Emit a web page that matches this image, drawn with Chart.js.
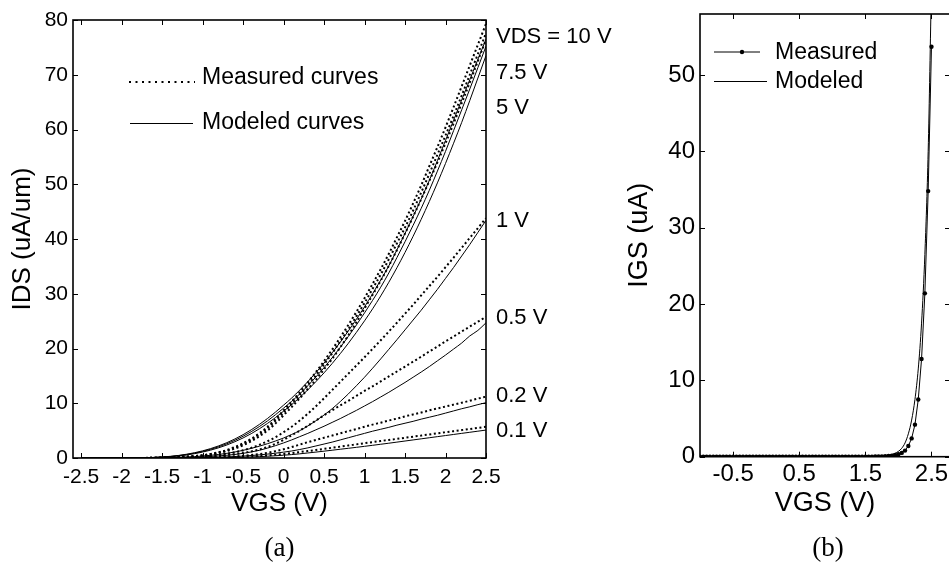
<!DOCTYPE html>
<html>
<head>
<meta charset="utf-8">
<script src="https://cdn.jsdelivr.net/npm/chart.js@4.4.1/dist/chart.umd.min.js"></script>
<style>
  html, body { margin: 0; padding: 0; background: #fff; overflow: hidden; width: 949px; height: 564px; }
  canvas { position: absolute; top: 0; }
</style>
</head>
<body>
<canvas id="chartA" width="640" height="564" style="left:0"></canvas>
<canvas id="chartB" width="390" height="564" style="left:592px"></canvas>
<script>
// ---- panel (a): IDS vs VGS ----
const vgsA = [-2.5,-2.4,-2.3,-2.2,-2.1,-2,-1.9,-1.8,-1.7,-1.6,-1.5,-1.4,-1.3,-1.2,-1.1,-1,-0.9,-0.8,-0.7,-0.6,-0.5,-0.4,-0.3,-0.2,-0.1,
  0,0.1,0.2,0.3,0.4,0.5,0.6,0.7,0.8,0.9,1,1.1,1.2,1.3,1.4,1.5,1.6,1.7,1.8,1.9,2,2.1,2.2,2.3,2.4,2.5];

const vdsLabels = ['VDS = 10 V', '7.5 V', '5 V', '1 V', '0.5 V', '0.2 V', '0.1 V'];

const measVds10 = [0,0,0,0,0,0,0,0.01,0.02,0.04,0.07,0.11,0.17,0.25,0.36,0.5,0.75,1.05,1.45,2.0,2.7,3.5,4.5,5.7,7.1,
  8.7,10.3,12.0,13.8,15.7,17.7,19.8,22.0,24.3,26.7,29.2,31.8,34.5,37.3,40.3,43.3,46.5,49.8,53.3,56.8,60.4,64.1,67.9,71.7,75.5,79.3];
const measVds75 = [0,0,0,0,0,0,0,0.01,0.02,0.04,0.06,0.1,0.16,0.24,0.34,0.48,0.7,1.0,1.38,1.9,2.55,3.35,4.3,5.45,6.8,
  8.3,9.9,11.5,13.3,15.1,17.1,19.1,21.3,23.5,25.9,28.3,30.9,33.5,36.3,39.2,42.1,45.2,48.5,51.9,55.4,58.9,62.5,66.2,70.0,73.8,77.6];
const measVds5 = [0,0,0,0,0,0,0,0.01,0.02,0.03,0.05,0.09,0.14,0.21,0.3,0.43,0.62,0.9,1.25,1.72,2.32,3.05,3.95,5.0,6.3,
  7.8,9.3,10.9,12.6,14.3,16.2,18.1,20.2,22.4,24.8,27.3,29.8,32.4,35.1,38.0,41.0,44.1,47.3,50.6,54.0,57.5,61.1,64.8,68.6,72.5,76.4];
const measVds1 = [0,0,0,0,0,0,0,0,0.01,0.02,0.04,0.06,0.09,0.14,0.2,0.29,0.41,0.57,0.78,1.05,1.4,1.85,2.4,3.05,3.8,
  4.7,5.7,6.85,8.1,9.45,10.9,12.4,13.9,15.4,16.9,18.4,19.95,21.5,23.1,24.7,26.35,28.0,29.7,31.4,33.1,34.85,36.6,38.4,40.2,42.0,43.8];
const measVds05 = [0,0,0,0,0,0,0,0,0.01,0.01,0.02,0.04,0.06,0.09,0.14,0.2,0.28,0.38,0.52,0.7,0.92,1.2,1.55,2.0,2.6,
  3.3,4.15,5.0,5.9,6.85,7.8,8.7,9.6,10.45,11.35,12.25,13.1,14.0,14.9,15.8,16.7,17.6,18.5,19.45,20.35,21.3,22.2,23.1,24.0,24.9,25.8];
const measVds02 = [0,0,0,0,0,0,0,0,0,0.01,0.01,0.02,0.03,0.04,0.06,0.08,0.11,0.15,0.21,0.29,0.4,0.54,0.72,0.95,1.25,
  1.6,2.0,2.45,2.9,3.3,3.7,4.1,4.5,4.9,5.3,5.7,6.1,6.45,6.85,7.2,7.6,7.95,8.3,8.7,9.05,9.4,9.75,10.1,10.45,10.85,11.2];
const measVds01 = [0,0,0,0,0,0,0,0,0,0,0,0.01,0.01,0.02,0.03,0.04,0.06,0.08,0.11,0.15,0.2,0.27,0.36,0.47,0.6,
  0.75,0.9,1.08,1.27,1.47,1.67,1.88,2.08,2.29,2.49,2.7,2.9,3.1,3.3,3.5,3.7,3.9,4.1,4.3,4.5,4.7,4.9,5.1,5.3,5.5,5.7];

const modVds10 = [0,0,0,0,0,0,0,0.03,0.06,0.11,0.19,0.3,0.46,0.68,0.96,1.3,1.72,2.22,2.8,3.48,4.26,5.14,6.12,7.2,8.38,
  9.65,10.95,12.4,13.95,15.6,17.35,19.2,21.15,23.2,25.35,27.6,30.0,32.5,35.1,38.0,41.0,44.1,47.3,50.7,54.3,58.0,61.7,65.4,69.1,72.8,76.5];
const modVds75 = [0,0,0,0,0,0,0,0.03,0.05,0.1,0.17,0.27,0.42,0.62,0.88,1.2,1.59,2.06,2.6,3.24,3.97,4.8,5.73,6.76,7.9,
  9.1,10.35,11.7,13.2,14.8,16.5,18.3,20.2,22.2,24.3,26.5,28.8,31.2,33.8,36.6,39.5,42.5,45.6,48.9,52.4,56.0,59.8,63.6,67.4,71.3,75.2];
const modVds5 = [0,0,0,0,0,0,0,0.02,0.05,0.09,0.15,0.24,0.37,0.55,0.79,1.08,1.44,1.87,2.38,2.98,3.66,4.44,5.32,6.3,7.38,
  8.55,9.75,11.05,12.45,13.95,15.55,17.25,19.05,20.95,22.95,25.05,27.25,29.6,32.1,34.75,37.55,40.5,43.6,46.85,50.25,53.8,57.5,61.3,65.3,69.4,73.5];
const modVds1 = [0,0,0,0,0,0,0,0,0.02,0.03,0.05,0.08,0.12,0.18,0.26,0.36,0.49,0.65,0.85,1.1,1.4,1.75,2.15,2.6,3.1,
  3.65,4.3,5.0,5.85,6.8,7.85,9.0,10.3,11.7,13.2,14.75,16.4,18.1,19.85,21.6,23.4,25.2,27.0,28.9,30.8,32.8,34.8,36.9,39.0,41.2,43.4];
const modVds05 = [0,0,0,0,0,0,0,0,0.01,0.02,0.03,0.04,0.06,0.09,0.14,0.2,0.28,0.38,0.5,0.65,0.85,1.1,1.4,1.8,2.25,
  2.75,3.3,3.9,4.5,5.15,5.8,6.5,7.2,7.95,8.7,9.5,10.3,11.15,12.0,12.9,13.8,14.75,15.7,16.7,17.75,18.8,19.9,21.0,22.3,23.3,24.7];
const modVds02 = [0,0,0,0,0,0,0,0,0,0.01,0.01,0.02,0.03,0.04,0.06,0.08,0.11,0.15,0.2,0.27,0.35,0.45,0.57,0.71,0.88,
  1.07,1.28,1.55,1.85,2.2,2.55,2.9,3.3,3.7,4.1,4.5,4.9,5.25,5.6,6.0,6.35,6.7,7.1,7.45,7.8,8.2,8.6,9.0,9.35,9.75,10.1];
const modVds01 = [0,0,0,0,0,0,0,0,0,0,0,0.01,0.01,0.02,0.02,0.03,0.04,0.06,0.08,0.11,0.14,0.19,0.25,0.32,0.41,
  0.51,0.62,0.76,0.92,1.08,1.25,1.42,1.6,1.77,1.95,2.13,2.32,2.51,2.7,2.9,3.1,3.3,3.5,3.7,3.9,4.1,4.3,4.5,4.7,4.9,5.1];

const xTicksA = [-2.5,-2,-1.5,-1,-0.5,0,0.5,1,1.5,2,2.5];
const yTicksA = [0,10,20,30,40,50,60,70,80];

// ---- panel (b): IGS vs VGS ----
const vgsB = [-1,-0.95,-0.9,-0.85,-0.8,-0.75,-0.7,-0.65,-0.6,-0.55,-0.5,-0.45,-0.4,-0.35,-0.3,-0.25,-0.2,-0.15,-0.1,-0.05,
  0,0.05,0.1,0.15,0.2,0.25,0.3,0.35,0.4,0.45,0.5,0.55,0.6,0.65,0.7,0.75,0.8,0.85,0.9,0.95,
  1,1.05,1.1,1.15,1.2,1.25,1.3,1.35,1.4,1.45,1.5,1.55,1.6,1.65,1.7,1.75,1.8,1.85,1.9,1.95,
  2,2.05,2.1,2.15,2.2,2.25,2.3,2.35,2.4,2.45,2.5];
const igsMeas = [0,0,0,0,0,0,0,0,0,0,0,0,0,0,0,0,0,0,0,0,0,0,0,0,0,0,0,0,0,0,0,0,0,0,0,0,0,0,0,0,0,0,0,0,0,0,0,0,0,0,0,
  0.01,0.01,0.02,0.03,0.04,0.06,0.09,0.14,0.22,0.33,0.5,0.8,1.4,2.4,4.2,7.5,12.8,21.4,34.8,53.7];
const igsMod = [0,0,0,0,0,0,0,0,0,0,0,0,0,0,0,0,0,0,0,0,0,0,0,0,0,0,0,0,0,0,0,0,0,0,0,0,0,0,0,0,0,0,0,0,0,0,0,0,0,0,0,
  0.01,0.02,0.03,0.05,0.08,0.13,0.2,0.3,0.45,0.7,1.1,1.8,3.0,4.8,7.5,11.5,17.5,26.5,40,62];
const xTicksB = [-0.5,0.5,1.5,2.5];
const yTicksB = [0,10,20,30,40,50];

// label anchors (IDS values where the right-hand VDS labels sit)
const labelAnchorA = [76.9, 70.3, 64.0, 43.3, 25.6, 11.4, 4.9];

const FONT = '"Liberation Sans", Arial, Helvetica, sans-serif';
Chart.defaults.font.family = FONT;
Chart.defaults.color = '#000';

const pts = (xs, ys) => ys.map((v, i) => ({x: xs[i], y: v}));

// MATLAB-like box with inward ticks on all four sides
const boxPlugin = {
  id: 'box',
  afterDraw(chart) {
    const {ctx, chartArea: a, scales: {x, y}} = chart;
    const len = 5;
    ctx.save();
    ctx.strokeStyle = '#000';
    ctx.lineWidth = 1;
    ctx.beginPath();
    x.ticks.forEach(t => {
      const px = Math.round(x.getPixelForValue(t.value)) + 0.5;
      ctx.moveTo(px, a.bottom); ctx.lineTo(px, a.bottom - len);
      ctx.moveTo(px, a.top); ctx.lineTo(px, a.top + len);
    });
    y.ticks.forEach(t => {
      const py = Math.round(y.getPixelForValue(t.value)) + 0.5;
      ctx.moveTo(a.left, py); ctx.lineTo(a.left + len, py);
      ctx.moveTo(a.right, py); ctx.lineTo(a.right - len, py);
    });
    ctx.stroke();
    ctx.lineWidth = 1.6;
    ctx.strokeRect(a.left, a.top, a.right - a.left, a.bottom - a.top);
    ctx.restore();
  }
};

const annotA = {
  id: 'annotA',
  afterDraw(chart) {
    const {ctx, chartArea: a, scales: {y}} = chart;
    ctx.save();
    ctx.fillStyle = '#000';
    ctx.strokeStyle = '#000';
    // legend
    ctx.lineWidth = 2;
    ctx.setLineDash([2, 4.5]);
    ctx.beginPath(); ctx.moveTo(a.left + 56, a.top + 62); ctx.lineTo(a.left + 122, a.top + 62); ctx.stroke();
    ctx.setLineDash([]);
    ctx.lineWidth = 1;
    ctx.beginPath(); ctx.moveTo(a.left + 57, a.top + 103.5); ctx.lineTo(a.left + 120, a.top + 103.5); ctx.stroke();
    ctx.font = '23px ' + FONT;
    ctx.textAlign = 'left';
    ctx.textBaseline = 'middle';
    ctx.fillText('Measured curves', a.left + 129, a.top + 58);
    ctx.fillText('Modeled curves', a.left + 129, a.top + 103);
    // VDS labels on the right
    ctx.font = '22px ' + FONT;
    vdsLabels.forEach((t, i) => ctx.fillText(t, a.right + 10, y.getPixelForValue(labelAnchorA[i])));
    // caption
    ctx.font = '27px "Liberation Serif", "Times New Roman", serif';
    ctx.textAlign = 'center';
    ctx.textBaseline = 'alphabetic';
    ctx.fillText('(a)', (a.left + a.right) / 2, 556);
    ctx.restore();
  }
};

const annotB = {
  id: 'annotB',
  afterDraw(chart) {
    const {ctx, chartArea: a} = chart;
    ctx.save();
    ctx.fillStyle = '#000';
    ctx.strokeStyle = '#000';
    ctx.lineWidth = 1;
    ctx.beginPath(); ctx.moveTo(a.left + 14, a.top + 38); ctx.lineTo(a.left + 60, a.top + 38); ctx.stroke();
    ctx.beginPath(); ctx.arc(a.left + 42, a.top + 38, 2.2, 0, Math.PI * 2); ctx.fill();
    ctx.beginPath(); ctx.moveTo(a.left + 14, a.top + 67.5); ctx.lineTo(a.left + 67, a.top + 67.5); ctx.stroke();
    ctx.font = '23px ' + FONT;
    ctx.textAlign = 'left';
    ctx.textBaseline = 'middle';
    ctx.fillText('Measured', a.left + 75, a.top + 38.5);
    ctx.fillText('Modeled', a.left + 75, a.top + 68);
    ctx.font = '27px "Liberation Serif", "Times New Roman", serif';
    ctx.textAlign = 'center';
    ctx.textBaseline = 'alphabetic';
    ctx.fillText('(b)', a.left + 128, 556);
    ctx.restore();
  }
};

function axisOpts(o) {
  return {
    type: 'linear',
    min: o.min, max: o.max,
    grid: {display: false, drawTicks: false},
    border: {display: false},
    afterBuildTicks: s => { s.ticks = o.ticks.map(v => ({value: v})); },
    afterFit: s => {
      if (o.width) s.width = o.width;
      if (o.height) s.height = o.height;
      s.paddingLeft = 0; s.paddingRight = 0; s.paddingTop = 0; s.paddingBottom = 0;
    },
    ticks: {autoSkip: false, maxRotation: 0, minRotation: 0, padding: o.pad, font: {size: o.tickSize},
      color: '#000', callback: v => String(v)},
    title: {display: true, text: o.title, color: '#000', font: {size: o.titleSize, lineHeight: 1}, padding: o.titlePad}
  };
}

const measSets = [measVds10, measVds75, measVds5, measVds1, measVds05, measVds02, measVds01];
const modSets = [modVds10, modVds75, modVds5, modVds1, modVds05, modVds02, modVds01];

const dsA = [];
modSets.forEach((s, i) => dsA.push({
  label: 'Modeled ' + vdsLabels[i], data: pts(vgsA, s),
  borderColor: '#000', borderWidth: 1, pointRadius: 0, cubicInterpolationMode: 'monotone'
}));
measSets.forEach((s, i) => dsA.push({
  label: 'Measured ' + vdsLabels[i], data: pts(vgsA, s),
  borderColor: '#000', borderWidth: 2, borderDash: [2, 2.6], pointRadius: 0, cubicInterpolationMode: 'monotone'
}));

new Chart(document.getElementById('chartA'), {
  type: 'line',
  data: {datasets: dsA},
  options: {
    responsive: false, animation: false, events: [],
    layout: {padding: {left: 0, top: 20, right: 154, bottom: 47}},
    plugins: {legend: {display: false}, tooltip: {enabled: false}},
    scales: {
      x: axisOpts({min: -2.6, max: 2.5, ticks: xTicksA, height: 59, pad: 7, tickSize: 21,
        title: 'VGS (V)', titleSize: 26, titlePad: {top: 0, bottom: 0}}),
      y: axisOpts({min: 0, max: 80, ticks: yTicksA, width: 73, pad: 5, tickSize: 21,
        title: 'IDS (uA/um)', titleSize: 26, titlePad: {top: 9.5, bottom: 0}})
    }
  },
  plugins: [boxPlugin, annotA]
});

new Chart(document.getElementById('chartB'), {
  type: 'line',
  data: {datasets: [
    {label: 'Modeled', data: pts(vgsB, igsMod), borderColor: '#000', borderWidth: 1, pointRadius: 0,
      cubicInterpolationMode: 'monotone'},
    {label: 'Measured', data: pts(vgsB, igsMeas), borderColor: '#000', borderWidth: 1, pointRadius: 2.2,
      pointBackgroundColor: '#000', pointBorderWidth: 0}
  ]},
  options: {
    responsive: false, animation: false, events: [],
    layout: {padding: {left: 0, top: 14, right: 32, bottom: 47}},
    plugins: {legend: {display: false}, tooltip: {enabled: false}},
    scales: {
      x: axisOpts({min: -1, max: 2.78, ticks: xTicksB, height: 60.3, pad: 3, tickSize: 24,
        title: 'VGS (V)', titleSize: 27, titlePad: {top: 0, bottom: 0}}),
      y: axisOpts({min: 0, max: 58, ticks: yTicksB, width: 108, pad: 5, tickSize: 24,
        title: 'IGS (uA)', titleSize: 27, titlePad: {top: 34.5, bottom: 0}})
    }
  },
  plugins: [boxPlugin, annotB]
});
</script>
</body>
</html>
